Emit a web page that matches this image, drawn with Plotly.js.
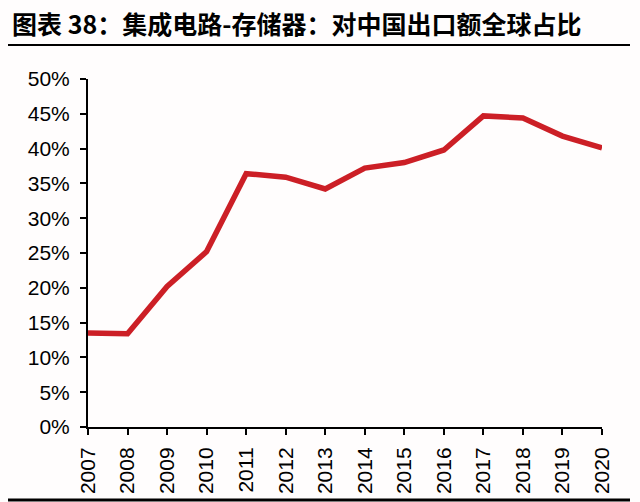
<!DOCTYPE html>
<html>
<head>
<meta charset="utf-8">
<script src="https://cdn.plot.ly/plotly-3.0.1.min.js"></script>
<style>
  html, body { margin: 0; padding: 0; background: #fffdfd; }
  #chart { width: 640px; height: 502px; }
</style>
</head>
<body>
<div id="chart"></div>
<script>
// years on the x axis
var years = ['2007', '2008', '2009', '2010', '2011', '2012', '2013',
             '2014', '2015', '2016', '2017', '2018', '2019', '2020'];

// share of global memory IC exports going to China (fraction)
var chinaShare = [0.135, 0.134, 0.202, 0.252, 0.364, 0.359, 0.342,
                  0.372, 0.380, 0.398, 0.447, 0.444, 0.418, 0.401];

var yTicks = [0, 0.05, 0.10, 0.15, 0.20, 0.25, 0.30, 0.35, 0.40, 0.45, 0.50];
var yTickText = ['0%', '5%', '10%', '15%', '20%', '25%', '30%', '35%', '40%', '45%', '50%'];

var titleText = '图表 38：集成电路-存储器：对中国出口额全球占比';

var trace = {
    x: years,
    y: chinaShare,
    type: 'scatter',
    mode: 'lines',
    line: { color: '#cc1f26', width: 5.5 },
    hoverinfo: 'skip'
};

var layout = {
    width: 640,
    height: 502,
    margin: { l: 88, r: 38, t: 79, b: 75 },
    paper_bgcolor: '#fffdfd',
    plot_bgcolor: '#fffdfd',
    showlegend: false,
    title: {
        text: titleText,
        x: 12 / 640,
        xanchor: 'left',
        xref: 'container',
        y: 1 - 25 / 502,
        yanchor: 'middle',
        yref: 'container',
        font: { family: 'Noto Sans CJK SC', size: 25, color: '#000', weight: 'bold' }
    },
    xaxis: {
        type: 'category',
        range: [0, years.length - 1],
        showgrid: false,
        zeroline: false,
        showline: true,
        linecolor: '#000',
        linewidth: 2,
        ticks: 'outside',
        ticklen: 6,
        tickwidth: 2,
        tickcolor: '#000',
        tickangle: -90,
        ticklabelstandoff: 4,
        tickfont: { family: 'Liberation Sans', size: 21, color: '#000' },
        fixedrange: true
    },
    yaxis: {
        range: [0, 0.5],
        tickvals: yTicks,
        ticktext: yTickText,
        showgrid: false,
        zeroline: false,
        showline: true,
        linecolor: '#000',
        linewidth: 2,
        ticks: 'outside',
        ticklen: 6,
        tickwidth: 2,
        tickcolor: '#000',
        ticklabelstandoff: 6,
        tickfont: { family: 'Liberation Sans', size: 21, color: '#000' },
        fixedrange: true
    },
    shapes: [
        // rule under the title
        { type: 'line', xref: 'paper', yref: 'paper',
          x0: (8 - 88) / 514, x1: (630 - 88) / 514,
          y0: (427 - 45) / 348, y1: (427 - 45) / 348,
          line: { color: '#000', width: 2 } },
        // rule at the bottom
        { type: 'line', xref: 'paper', yref: 'paper',
          x0: (8 - 88) / 514, x1: (630 - 88) / 514,
          y0: (427 - 500) / 348, y1: (427 - 500) / 348,
          line: { color: '#000', width: 3 } }
    ]
};

Plotly.newPlot('chart', [trace], layout, { displayModeBar: false, staticPlot: true });
</script>
</body>
</html>
